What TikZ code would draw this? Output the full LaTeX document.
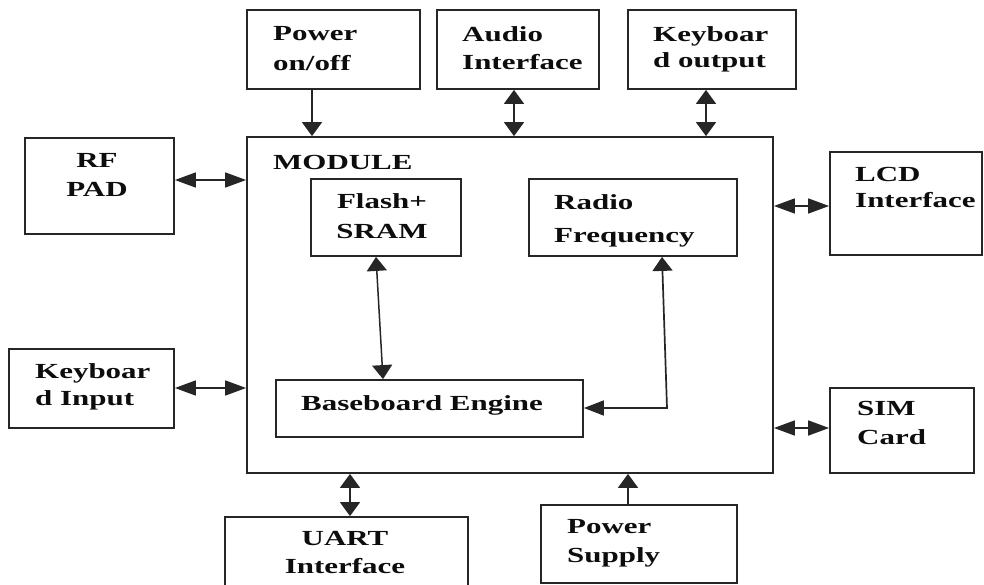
\documentclass[tikz,border=0pt]{standalone}
\usepackage{fontspec}
\setmainfont{Liberation Serif}[FakeStretch=1.44]
\usetikzlibrary{arrows.meta,fit}
\begin{document}
\begin{tikzpicture}[x=1pt,y=-1pt,
  box/.style={draw=black!85, line width=1.8pt, inner sep=0pt},
  txt/.style={inner sep=0pt, text=black!95, align=left, font=\fontsize{21.5}{#1}\selectfont\bfseries},
  txt/.default=29,
  ctxt/.style={txt=#1, align=center, anchor=north},
  ctxt/.default=29,
  wire/.style={draw=black!85, line width=1.7pt},
  vv/.style={wire, {Triangle[length=14pt,width=20pt]}-{Triangle[length=14pt,width=20pt]}},
  hh/.style={wire, {Triangle[length=21pt,width=15pt]}-{Triangle[length=21pt,width=15pt]}},
  vone/.style={wire, -{Triangle[length=14pt,width=20pt]}},
  vh/.style={wire, {Triangle[length=14pt,width=20pt]}-{Triangle[length=20pt,width=15pt]}}
]
\useasboundingbox (0,0) rectangle (984,585);
\fill[white] (0,0) rectangle (984,585);

% boxes
\node[box, fit={(247,10) (420,89)}] (pwr) {};
\node[box, fit={(437,10) (599,89)}] (aud) {};
\node[box, fit={(628,10) (796,89)}] (kbo) {};
\node[box, fit={(25,138) (174,234)}] (rf) {};
\node[box, fit={(247,137) (773,473)}] (mod) {};
\node[box, fit={(311,179) (461,256)}] (flash) {};
\node[box, fit={(529,179) (737,256)}] (radio) {};
\node[box, fit={(830,152) (982,255)}] (lcd) {};
\node[box, fit={(9,349) (174,428)}] (kbi) {};
\node[box, fit={(276,380) (583,437)}] (base) {};
\node[box, fit={(830,388) (974,473)}] (sim) {};
\node[box, fit={(225,517) (468,600)}] (uart) {};
\node[box, fit={(541,505) (737,583)}] (ps) {};

% texts
\node[txt=30, anchor=north west] (tpwr) at (273,26) {Power\\on/off};
\node[txt=28, anchor=north west] (taud) at (462,26) {Audio\\Interface};
\node[txt=26, anchor=north west] (tkbo) at (653,26) {Keyboar\\d output};
\node[ctxt=29] (trf) at (97,153) {RF\\PAD};
\node[txt, anchor=north west] (tmod) at (273,155) {MODULE};
\node[ctxt=30] (tflash) at (382,193) {Flash+\\SRAM};
\node[txt=33, anchor=north west] (tradio) at (554,194) {Radio\\Frequency};
\node[txt=26, anchor=north west] (tlcd) at (855,167) {LCD\\Interface};
\node[txt=27, anchor=north west] (tkbi) at (35,363) {Keyboar\\d Input};
\node[txt, anchor=north west] (tbase) at (301,395) {Baseboard Engine};
\node[txt=29, anchor=north west] (tsim) at (857,401) {SIM\\Card};
\node[ctxt=28] (tuart) at (345,531) {UART\\Interface};
\node[txt=29, anchor=north west] (tps) at (567,519) {Power\\Supply};

% helper coordinates
\coordinate (xpw) at (312,0);
\coordinate (xau) at (514,0);
\coordinate (xkb) at (706,0);
\coordinate (xua) at (350,0);
\coordinate (xps) at (628,0);
\coordinate (yrf) at (0,180);
\coordinate (ylcd) at (0,206);
\coordinate (ykbi) at (0,388);
\coordinate (ysim) at (0,428);
\coordinate (xf1) at (376,0);
\coordinate (xf2) at (383,0);
\coordinate (xr1) at (662,0);
\coordinate (rb) at (667,408);

% connectors
\draw[vone] (pwr.south -| xpw) -- (mod.north -| xpw);
\draw[vv] (aud.south -| xau) -- (mod.north -| xau);
\draw[vv] (kbo.south -| xkb) -- (mod.north -| xkb);
\draw[hh] (rf.east |- yrf) -- (mod.west |- yrf);
\draw[hh] (mod.east |- ylcd) -- (lcd.west |- ylcd);
\draw[hh] (kbi.east |- ykbi) -- (mod.west |- ykbi);
\draw[hh] (mod.east |- ysim) -- (sim.west |- ysim);
\draw[vv] (mod.south -| xua) -- (uart.north -| xua);
\draw[vone] (ps.north -| xps) -- (mod.south -| xps);
\draw[vv, line width=1.5pt] (flash.south -| xf1) -- (base.north -| xf2);
\draw[vh] (radio.south -| xr1) -- (rb) -- (rb -| base.east);
\end{tikzpicture}
\end{document}
